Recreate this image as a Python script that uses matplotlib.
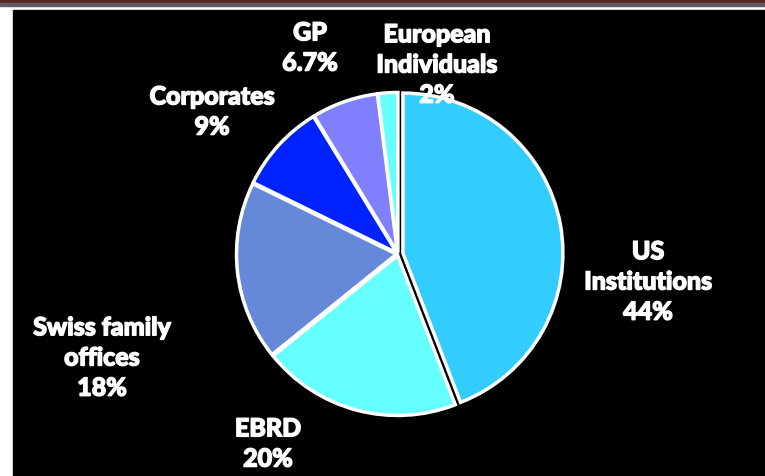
import matplotlib.pyplot as plt
import matplotlib.patheffects as pe
from matplotlib.patches import Rectangle

plt.rcParams['font.family'] = ['Lato', 'DejaVu Sans']

# investor split, clockwise from 12 o'clock
labels = ['US\nInstitutions', 'EBRD', 'Swiss family\noffices', 'Corporates', 'GP', 'European\nIndividuals']
shares = [44, 20, 18, 9, 6.7, 2]
pct_text = ['44%', '20%', '18%', '9%', '6.7%', '2%']
colors = ['#33CCFF', '#66FFFF', '#6688D8', '#0022FF', '#8080FF', '#66FFFF']
explode = [5, 1.5, 1.5, 1.5, 1.5, 1.5]  # in pixels (pie explode is absolute)

# label anchor points (pixels from top-left)
label_pos = [(648, 282), (268, 444), (102, 358), (212, 112), (310, 48), (437, 65)]

W, H = 765, 476
fig = plt.figure(figsize=(W / 100, H / 100), dpi=100)
fig.patch.set_facecolor('white')
ax = fig.add_axes([0, 0, 1, 1])

# frame: dark strip on top, black panel
ax.add_patch(Rectangle((0, H - 3), W, 3, color='#5a2424', zorder=0))
ax.add_patch(Rectangle((0, H - 6), W, 3, color='#5e5e5e', zorder=0))
ax.add_patch(Rectangle((13, 0), W - 13, H - 10, color='black', zorder=0))

ax.pie(shares, colors=colors, explode=explode, startangle=90, counterclock=False,
       center=(398, H - 254), radius=160, frame=True,
       wedgeprops=dict(edgecolor='white', linewidth=2.5))
ax.set_xlim(0, W)
ax.set_ylim(0, H)
ax.set_aspect('auto')
ax.axis('off')

for lab, pct, (px, py) in zip(labels, pct_text, label_pos):
    ax.text(px, H - py, lab + '\n' + pct, color='white', fontsize=18, fontweight='black',
            ha='center', va='center', linespacing=1.38,
            path_effects=[pe.withStroke(linewidth=1.0, foreground='white')])

fig.savefig('out.png', dpi=100, facecolor=fig.get_facecolor())
